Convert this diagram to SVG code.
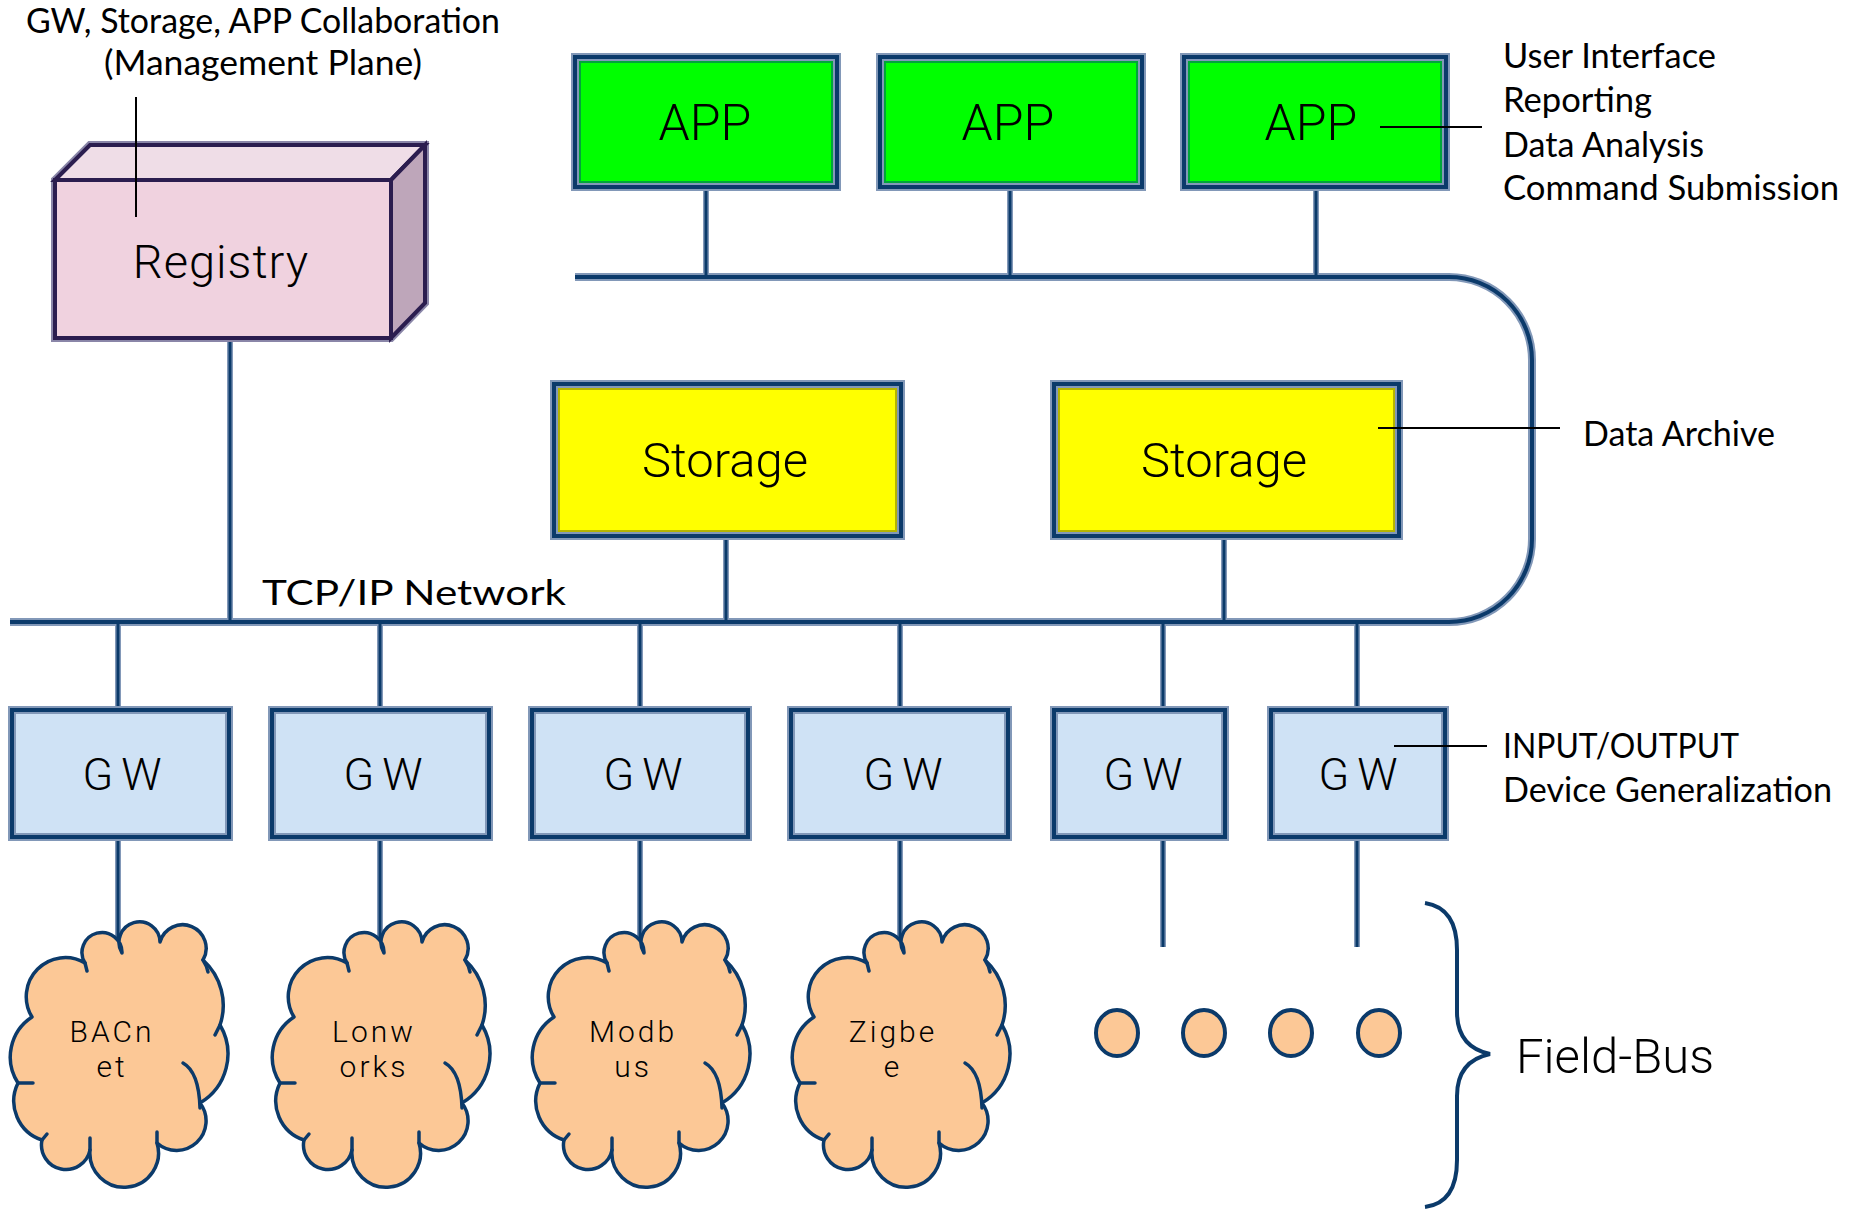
<svg xmlns="http://www.w3.org/2000/svg" width="1851" height="1209" viewBox="0 0 1851 1209">
  <defs>
    <style>
      .note { font-family: Lato, "Open Sans", sans-serif; font-size: 34px; fill: #000; }
      .lbl { font-family: Roboto, "Liberation Sans", Arial, sans-serif; font-weight: 300; fill: #000; text-anchor: middle; }
      .halo { fill: none; stroke: #8298b8; stroke-width: 8; }
      .edge { fill: none; stroke: #0b3a6a; stroke-width: 4; }
      .wire-halo { fill: none; stroke: #8298b8; stroke-width: 6; }
      .wire { fill: none; stroke: #0b3a6a; stroke-width: 3; }
      .bus-halo { fill: none; stroke: #8298b8; stroke-width: 8; }
      .bus { fill: none; stroke: #0b3a6a; stroke-width: 4; }
      .leader { fill: none; stroke: #000; stroke-width: 2; }
      .app { fill: #00ff00; }
      .app-in { fill: none; stroke: #00a53a; stroke-width: 3; }
      .sto { fill: #ffff00; }
      .sto-in { fill: none; stroke: #b4b400; stroke-width: 3; }
      .gw { fill: #cfe2f5; }
      .gw-lbl { font-size: 45px; letter-spacing: 8px; }
      .cloud { fill: #fcc896; stroke: #0b3a6a; stroke-width: 3.5; stroke-linejoin: round; }
      .cloud-line { fill: none; stroke: #0b3a6a; stroke-width: 3.5; stroke-linecap: round; }
    </style>
    <!-- field-bus cloud outline, local box about 222 x 266 -->
    <g id="cloud-shape">
      <path class="cloud" d="M75,41 A20,20 0 1 1 112,31 A20.5,20.5 0 1 1 150,20 A23.5,23.5 0 1 1 193,38 A61,61 0 0 1 210,103 A57,57 0 0 1 190,181 A29.5,29.5 0 0 1 147,221 A34.3,34.3 0 1 1 80,228 A24,24 0 0 1 32,218 A41,41 0 0 1 8,161 A47.7,47.7 0 0 1 22,95 A39,39 0 0 1 75,41 Z"/>
      <path class="cloud-line" d="M75,41 L77,49"/>
      <path class="cloud-line" d="M193,38 Q197,44 198,50"/>
      <path class="cloud-line" d="M210,103 L205,113"/>
      <path class="cloud-line" d="M173,141 Q189,150 190,186"/>
      <path class="cloud-line" d="M147,221 L147,210"/>
      <path class="cloud-line" d="M80,228 L80,216"/>
      <path class="cloud-line" d="M32,218 L37,212"/>
      <path class="cloud-line" d="M8,161 L23,161"/>
    </g>
  </defs>

  <rect width="1851" height="1209" fill="#ffffff"/>

  <!-- connectors -->
  <g id="connectors">
    <path class="bus-halo" d="M575,277 H1449 A83,83 0 0 1 1532,360 V539 A83,83 0 0 1 1449,622 H10"/>
    <g class="wire-halo">
      <path d="M230,338 V622"/>
      <path d="M706,188 V277 M1010,188 V277 M1316,188 V277"/>
      <path d="M726,537 V622 M1224,537 V622"/>
      <path d="M118,622 V709 M380,622 V709 M640,622 V709 M900,622 V709 M1163,622 V709 M1357,622 V709"/>
      <path d="M118,838 V950 M380,838 V950 M640,838 V950 M900,838 V950"/>
      <path d="M1163,838 V947 M1357,838 V947"/>
    </g>
    <path class="bus" d="M575,277 H1449 A83,83 0 0 1 1532,360 V539 A83,83 0 0 1 1449,622 H10"/>
    <g class="wire">
      <path d="M230,338 V622"/>
      <path d="M706,188 V277 M1010,188 V277 M1316,188 V277"/>
      <path d="M726,537 V622 M1224,537 V622"/>
      <path d="M118,622 V709 M380,622 V709 M640,622 V709 M900,622 V709 M1163,622 V709 M1357,622 V709"/>
      <path d="M118,838 V950 M380,838 V950 M640,838 V950 M900,838 V950"/>
      <path d="M1163,838 V947 M1357,838 V947"/>
    </g>
  </g>

  <!-- registry -->
  <g id="registry">
    <polygon points="55,180 90,145 425,145 425,303 391,338 55,338" fill="none" stroke="#8a86a8" stroke-width="8"/>
    <g stroke="#2b1d4f" stroke-width="4">
      <polygon points="55,180 90,145 425,145 391,180" fill="#efdde7"/>
      <polygon points="391,180 425,145 425,303 391,338" fill="#bea6ba"/>
      <rect x="55" y="180" width="336" height="158" fill="#f0d2df"/>
    </g>
    <text class="lbl" x="221" y="278" font-size="47" letter-spacing="1">Registry</text>
  </g>

  <!-- applications -->
  <g id="app1">
    <rect class="app" x="575" y="57" width="262" height="130"/>
    <rect class="app-in" x="579.5" y="61.5" width="253" height="121"/>
    <rect class="halo" x="575" y="57" width="262" height="130"/>
    <rect class="edge" x="575" y="57" width="262" height="130"/>
    <text class="lbl" x="705" y="140" font-size="50">APP</text>
  </g>
  <g id="app2">
    <rect class="app" x="880" y="57" width="262" height="130"/>
    <rect class="app-in" x="884.5" y="61.5" width="253" height="121"/>
    <rect class="halo" x="880" y="57" width="262" height="130"/>
    <rect class="edge" x="880" y="57" width="262" height="130"/>
    <text class="lbl" x="1008" y="140" font-size="50">APP</text>
  </g>
  <g id="app3">
    <rect class="app" x="1184" y="57" width="262" height="130"/>
    <rect class="app-in" x="1188.5" y="61.5" width="253" height="121"/>
    <rect class="halo" x="1184" y="57" width="262" height="130"/>
    <rect class="edge" x="1184" y="57" width="262" height="130"/>
    <text class="lbl" x="1311" y="140" font-size="50">APP</text>
  </g>

  <!-- storage -->
  <g id="storage1">
    <rect class="sto" x="554" y="384" width="347" height="152"/>
    <rect class="sto-in" x="558.5" y="388.5" width="338" height="143"/>
    <rect class="halo" x="554" y="384" width="347" height="152"/>
    <rect class="edge" x="554" y="384" width="347" height="152"/>
    <text class="lbl" x="725" y="477" font-size="49">Storage</text>
  </g>
  <g id="storage2">
    <rect class="sto" x="1054" y="384" width="345" height="152"/>
    <rect class="sto-in" x="1058.5" y="388.5" width="336" height="143"/>
    <rect class="halo" x="1054" y="384" width="345" height="152"/>
    <rect class="edge" x="1054" y="384" width="345" height="152"/>
    <text class="lbl" x="1224" y="477" font-size="49">Storage</text>
  </g>

  <!-- gateways -->
  <g id="gw1">
    <rect class="gw" x="12" y="710" width="217" height="127"/>
    <rect class="halo" x="12" y="710" width="217" height="127"/>
    <rect class="edge" x="12" y="710" width="217" height="127"/>
    <text class="lbl gw-lbl" x="126" y="790">GW</text>
  </g>
  <g id="gw2">
    <rect class="gw" x="272" y="710" width="217" height="127"/>
    <rect class="halo" x="272" y="710" width="217" height="127"/>
    <rect class="edge" x="272" y="710" width="217" height="127"/>
    <text class="lbl gw-lbl" x="387" y="790">GW</text>
  </g>
  <g id="gw3">
    <rect class="gw" x="532" y="710" width="216" height="127"/>
    <rect class="halo" x="532" y="710" width="216" height="127"/>
    <rect class="edge" x="532" y="710" width="216" height="127"/>
    <text class="lbl gw-lbl" x="647" y="790">GW</text>
  </g>
  <g id="gw4">
    <rect class="gw" x="791" y="710" width="217" height="127"/>
    <rect class="halo" x="791" y="710" width="217" height="127"/>
    <rect class="edge" x="791" y="710" width="217" height="127"/>
    <text class="lbl gw-lbl" x="907" y="790">GW</text>
  </g>
  <g id="gw5">
    <rect class="gw" x="1054" y="710" width="171" height="127"/>
    <rect class="halo" x="1054" y="710" width="171" height="127"/>
    <rect class="edge" x="1054" y="710" width="171" height="127"/>
    <text class="lbl gw-lbl" x="1147" y="790">GW</text>
  </g>
  <g id="gw6">
    <rect class="gw" x="1271" y="710" width="174" height="127"/>
    <rect class="halo" x="1271" y="710" width="174" height="127"/>
    <rect class="edge" x="1271" y="710" width="174" height="127"/>
    <text class="lbl gw-lbl" x="1362" y="790">GW</text>
  </g>

  <!-- field buses -->
  <g id="bacnet">
    <use href="#cloud-shape" transform="translate(10,922)"/>
    <text class="lbl" font-size="30" letter-spacing="3"><tspan x="112" y="1042">BACn</tspan><tspan x="112" y="1077">et</tspan></text>
  </g>
  <g id="lonworks">
    <use href="#cloud-shape" transform="translate(272,922)"/>
    <text class="lbl" font-size="30" letter-spacing="3"><tspan x="374" y="1042">Lonw</tspan><tspan x="374" y="1077">orks</tspan></text>
  </g>
  <g id="modbus">
    <use href="#cloud-shape" transform="translate(532,922)"/>
    <text class="lbl" font-size="30" letter-spacing="3"><tspan x="633" y="1042">Modb</tspan><tspan x="633" y="1077">us</tspan></text>
  </g>
  <g id="zigbee">
    <use href="#cloud-shape" transform="translate(792,922)"/>
    <text class="lbl" font-size="30" letter-spacing="3"><tspan x="893" y="1042">Zigbe</tspan><tspan x="893" y="1077">e</tspan></text>
  </g>

  <!-- further buses -->
  <g id="more-buses" fill="#fcc896" stroke="#0b3a6a" stroke-width="4">
    <ellipse cx="1117" cy="1033" rx="21" ry="23"/>
    <ellipse cx="1204" cy="1033" rx="21" ry="23"/>
    <ellipse cx="1291" cy="1033" rx="21" ry="23"/>
    <ellipse cx="1379" cy="1033" rx="21" ry="23"/>
  </g>

  <!-- field-bus brace -->
  <g id="field-bus">
    <path d="M1425,903 Q1457,908 1457,950 V1012 Q1457,1047 1490,1054 Q1457,1061 1457,1096 V1160 Q1457,1203 1425,1207" fill="none" stroke="#0b3a6a" stroke-width="4"/>
    <text x="1516" y="1073" font-family="Roboto, 'Liberation Sans', Arial, sans-serif" font-weight="300" font-size="49">Field-Bus</text>
  </g>

  <!-- annotation leaders, drawn over the boxes they point into -->
  <g id="leaders" class="leader">
    <path d="M136,97 V217"/>
    <path d="M1380,127 H1482"/>
    <path d="M1378,428 H1560"/>
    <path d="M1394,746 H1487"/>
  </g>

  <!-- annotations -->
  <g id="annotations">
    <text class="note" x="26" y="33" textLength="474" lengthAdjust="spacingAndGlyphs">GW, Storage, APP Collaboration</text>
    <text class="note" x="104" y="75" textLength="318" lengthAdjust="spacingAndGlyphs">(Management Plane)</text>
    <text class="note" x="1503" y="68" textLength="213" lengthAdjust="spacingAndGlyphs">User Interface</text>
    <text class="note" x="1503" y="112" textLength="149" lengthAdjust="spacingAndGlyphs">Reporting</text>
    <text class="note" x="1503" y="157" textLength="201" lengthAdjust="spacingAndGlyphs">Data Analysis</text>
    <text class="note" x="1503" y="200" textLength="336" lengthAdjust="spacingAndGlyphs">Command Submission</text>
    <text class="note" x="1583" y="446" textLength="192" lengthAdjust="spacingAndGlyphs">Data Archive</text>
    <text class="note" x="1503" y="758" textLength="236" lengthAdjust="spacingAndGlyphs">INPUT/OUTPUT</text>
    <text class="note" x="1503" y="802" textLength="329" lengthAdjust="spacingAndGlyphs">Device Generalization</text>
    <text class="note" x="262" y="605" font-size="44" textLength="304" lengthAdjust="spacingAndGlyphs">TCP/IP Network</text>
  </g>
</svg>
